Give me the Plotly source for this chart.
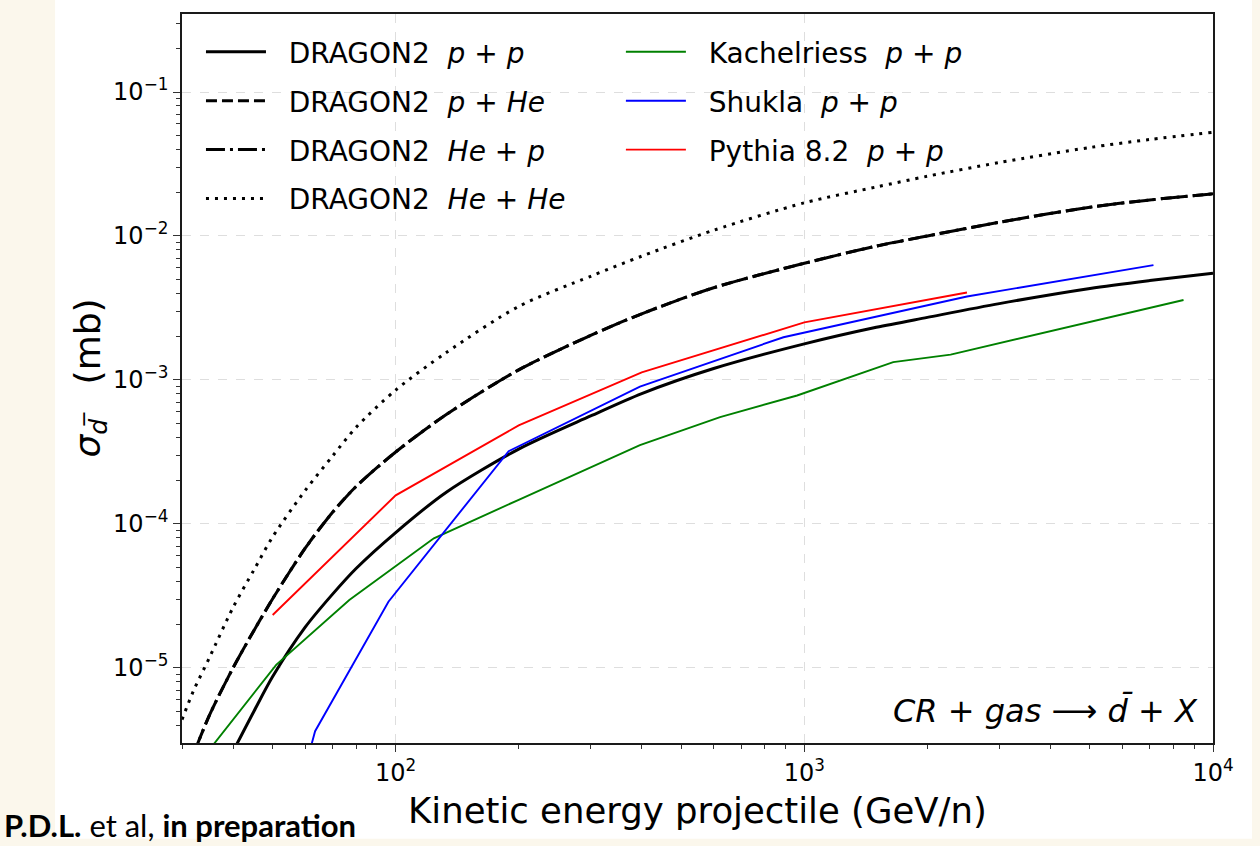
import plotly.graph_objects as go

# ---------------------------------------------------------------------------
# Antideuteron production cross sections vs. projectile kinetic energy
# ---------------------------------------------------------------------------

# DRAGON2 parametrisations (GeV/n, mb)
energy_pp = [40, 45, 50, 60, 70, 80, 100, 133, 200, 300, 400, 600, 1000,
             1500, 2000, 3000, 5000, 7000, 10000]
sigma_pp = [2.63e-6, 5.0e-6, 8.7e-6, 1.91e-5, 3.24e-5, 4.90e-5, 8.71e-5,
            1.66e-4, 3.31e-4, 5.62e-4, 8.04e-4, 1.20e-3, 1.78e-3, 2.32e-3,
            2.72e-3, 3.39e-3, 4.32e-3, 4.90e-3, 5.52e-3]

energy_he = [32, 35, 40, 45, 50, 60, 70, 80, 100, 133, 200, 300, 400, 600,
             1000, 1500, 2000, 3000, 5000, 7000, 10000]
sigma_phe = [2.51e-6, 4.68e-6, 1.0e-5, 1.82e-5, 3.02e-5, 6.76e-5, 1.20e-4,
             1.82e-4, 3.16e-4, 5.75e-4, 1.175e-3, 2.04e-3, 2.88e-3, 4.37e-3,
             6.46e-3, 8.51e-3, 1.0e-2, 1.245e-2, 1.585e-2, 1.778e-2, 1.963e-2]
sigma_hep = [2.51e-6, 4.68e-6, 1.0e-5, 1.82e-5, 3.02e-5, 6.76e-5, 1.20e-4,
             1.82e-4, 3.16e-4, 5.75e-4, 1.175e-3, 2.04e-3, 2.88e-3, 4.37e-3,
             6.46e-3, 8.51e-3, 1.0e-2, 1.245e-2, 1.585e-2, 1.778e-2, 1.963e-2]

energy_hehe = [30, 32, 35, 40, 45, 50, 60, 70, 80, 100, 133, 200, 300, 400,
               600, 1000, 1500, 2000, 3000, 5000, 7000, 10000]
sigma_hehe = [4.37e-6, 6.92e-6, 1.175e-5, 2.63e-5, 4.79e-5, 8.13e-5,
              1.70e-4, 2.95e-4, 4.68e-4, 8.51e-4, 1.55e-3, 3.24e-3, 5.25e-3,
              7.24e-3, 1.096e-2, 1.70e-2, 2.19e-2, 2.60e-2, 3.24e-2, 4.12e-2,
              4.68e-2, 5.25e-2]

# Other p+p models
energy_kach = [35, 51, 77, 124, 200, 396, 622, 960, 1650, 2280, 8470]
sigma_kach = [2.7e-6, 1.05e-5, 2.96e-5, 7.94e-5, 1.47e-4, 3.52e-4, 5.52e-4,
              7.80e-4, 1.33e-3, 1.50e-3, 3.59e-3]

energy_shukla = [60, 63.5, 96, 189, 396, 889, 2500, 7150]
sigma_shukla = [2.0e-6, 3.63e-6, 2.88e-5, 3.2e-4, 9.0e-4, 1.98e-3, 3.8e-3,
                6.27e-3]

energy_pythia = [50, 100, 200, 400, 1000, 2500]
sigma_pythia = [2.33e-5, 1.58e-4, 4.83e-4, 1.13e-3, 2.51e-3, 4.05e-3]

# Axis ticks
x_tick_vals = [1e2, 1e3, 1e4]
x_tick_text = ["10<sup>2</sup>", "10<sup>3</sup>", "10<sup>4</sup>"]
y_tick_vals = [1e-5, 1e-4, 1e-3, 1e-2, 1e-1]
y_tick_text = ["10<sup>\u22125</sup>", "10<sup>\u22124</sup>",
               "10<sup>\u22123</sup>", "10<sup>\u22122</sup>",
               "10<sup>\u22121</sup>"]

FONT = "DejaVu Sans"
NB = "\u00a0"
PAD = NB + NB  # gap between legend sample line and label


def mathpp(a, b):
    return f"<i>{a}</i> + <i>{b}</i>"


fig = go.Figure()

dragon = [
    (energy_pp, sigma_pp, "DRAGON2" + NB + NB + mathpp("p", "p"), "solid"),
    (energy_he, sigma_phe, "DRAGON2" + NB + NB + mathpp("p", "He"), "11px,5px"),
    (energy_he, sigma_hep, "DRAGON2" + NB + NB + mathpp("He", "p"), "19px,5px,3px,5px"),
    (energy_hehe, sigma_hehe, "DRAGON2" + NB + NB + mathpp("He", "He"), "3px,6px"),
]
for i, (xs, ys, name, dash) in enumerate(dragon):
    fig.add_trace(go.Scatter(
        x=xs, y=ys, mode="lines", name=PAD + name,
        line=dict(color="black", width=3.0, dash=dash, shape="spline",
                  smoothing=0.8),
        legend="legend", legendgroup=f"d{i}",
    ))

others = [
    (energy_kach, sigma_kach, "Kachelriess" + NB + NB + mathpp("p", "p"), "green"),
    (energy_shukla, sigma_shukla, "Shukla" + NB + NB + mathpp("p", "p"), "#0000ff"),
    (energy_pythia, sigma_pythia, "Pythia 8.2" + NB + NB + mathpp("p", "p"), "#ff0000"),
]
for i, (xs, ys, name, col) in enumerate(others):
    fig.add_trace(go.Scatter(
        x=xs, y=ys, mode="lines", name=PAD + name,
        line=dict(color=col, width=1.9),
        legend="legend2", legendgroup=f"o{i}",
    ))

minor_x = [m * 10 ** k for k in range(1, 4) for m in range(2, 10)]
minor_y = [m * 10.0 ** k for k in range(-6, 0) for m in range(2, 10)]

axis_common = dict(
    type="log", showline=True, mirror=True, linecolor="#1a1a1a", linewidth=1.6,
    ticks="outside", ticklen=7, tickwidth=1.3, tickcolor="#333",
    showgrid=True, gridcolor="#dedede", griddash="dash", gridwidth=1,
    zeroline=False, tickmode="array",
    tickfont=dict(family=FONT, size=24, color="black"),
)

fig.update_xaxes(
    **axis_common, range=[1.4771, 4.0], tickvals=x_tick_vals,
    ticktext=x_tick_text,
    minor=dict(tickmode="array", tickvals=minor_x, ticks="outside",
               ticklen=4, tickcolor="#333", showgrid=False),
)
fig.update_yaxes(
    **axis_common, range=[-5.522, -0.458], tickvals=y_tick_vals,
    ticktext=y_tick_text,
    minor=dict(tickmode="array", tickvals=minor_y, ticks="outside",
               ticklen=4, tickcolor="#333", showgrid=False),
)

legend_common = dict(
    font=dict(family=FONT, size=28, color="black"),
    bgcolor="rgba(0,0,0,0)", borderwidth=0, tracegroupgap=9.5,
    itemwidth=60, xanchor="left", yanchor="top", traceorder="grouped",
)
fig.update_layout(
    legend=dict(**legend_common, x=0.0184, y=0.982),
    legend2=dict(**legend_common, x=0.4257, y=0.982),
)

cream = "#fbf7ec"
shapes = [
    dict(type="rect", xref="paper", yref="paper", x0=-0.2, x1=-0.1231,
         y0=-0.2, y1=1.1, fillcolor=cream, line_width=0, layer="below"),
    dict(type="rect", xref="paper", yref="paper", x0=1.0378, x1=1.1,
         y0=-0.2, y1=1.1, fillcolor=cream, line_width=0, layer="below"),
    dict(type="rect", xref="paper", yref="paper", x0=-0.2, x1=1.1,
         y0=-0.2, y1=-0.1313, fillcolor=cream, line_width=0, layer="below"),
]

annotations = [
    dict(text="<i>\u03c3</i><sub><i>d\u0305</i></sub>" + NB * 3 + "(mb)",
         xref="paper", yref="paper", x=-0.0892, y=0.5, textangle=-90,
         showarrow=False, font=dict(family=FONT, size=36, color="black"),
         xanchor="center", yanchor="middle"),
    dict(text="Kinetic energy projectile (GeV/n)", xref="paper",
         yref="paper", x=0.5, y=-0.0614, showarrow=False, xanchor="center",
         yanchor="top", font=dict(family=FONT, size=35.5, color="black")),
    dict(text="<i>CR</i> + <i>gas</i> \u27f6 <i>d\u0304</i> + <i>X</i>",
         xref="paper", yref="paper", x=0.9875, y=0.045, showarrow=False,
         xanchor="right", yanchor="middle",
         font=dict(family=FONT, size=32, color="black")),
    dict(text="<b>P.D.L.</b> et al, <b>in preparation</b>", xref="paper",
         yref="paper", x=-0.1735, y=-0.1405, showarrow=False, xanchor="left",
         yanchor="bottom", borderpad=0,
         font=dict(family="Lato", size=31, color="black")),
]

fig.update_layout(
    width=1260, height=846,
    margin=dict(l=182, r=47, t=12, b=103),
    paper_bgcolor="white", plot_bgcolor="white",
    shapes=shapes, annotations=annotations, showlegend=True,
)

fig.write_html("out.html")
